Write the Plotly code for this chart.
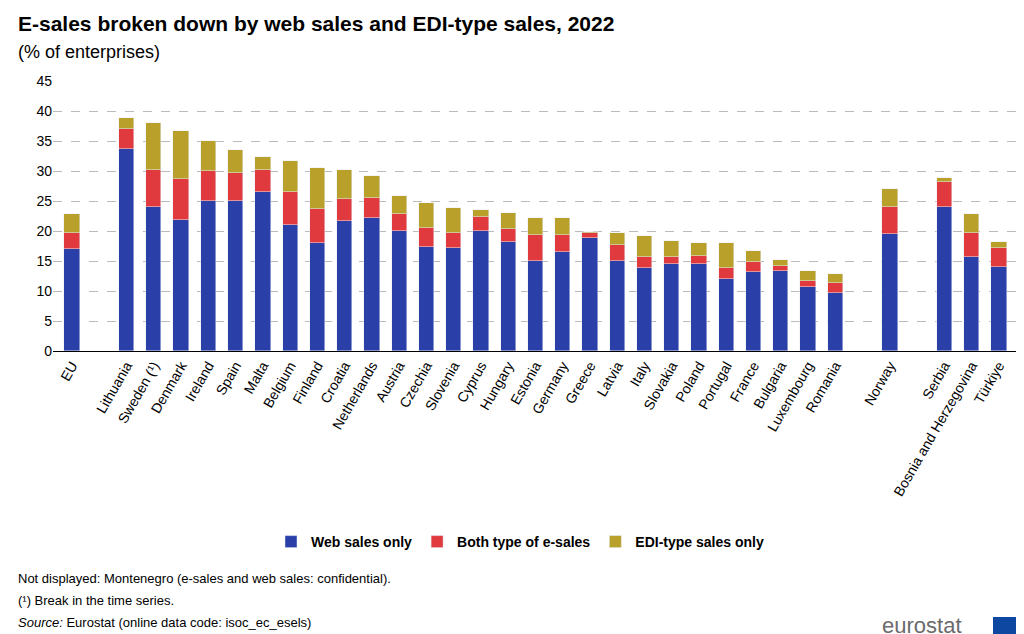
import plotly.graph_objects as go

countries = ["EU","Lithuania","Sweden (¹)","Denmark","Ireland","Spain","Malta","Belgium","Finland","Croatia","Netherlands","Austria","Czechia","Slovenia","Cyprus","Hungary","Estonia","Germany","Greece","Latvia","Italy","Slovakia","Poland","Portugal","France","Bulgaria","Luxembourg","Romania","Norway","Serbia","Bosnia and Herzegovina","Türkiye"]
web = [17.0,33.7,24.0,21.8,25.0,25.0,26.5,21.0,18.0,21.7,22.1,20.0,17.3,17.1,20.0,18.1,15.0,16.5,18.9,15.0,13.9,14.5,14.5,12.0,13.2,13.4,10.6,9.6,19.5,24.0,15.6,14.0]
both = [2.7,3.3,6.1,6.8,5.0,4.7,3.7,5.5,5.7,3.6,3.4,2.8,3.2,2.5,2.4,2.3,4.3,2.8,0.7,2.6,1.8,1.1,1.3,1.9,1.6,0.8,1.0,1.8,4.5,4.1,4.0,3.1]
edi = [3.1,1.8,7.9,8.1,5.0,3.8,2.2,5.2,6.8,4.9,3.7,3.1,4.2,4.3,1.1,2.6,2.9,2.8,0.3,2.0,3.4,2.8,2.2,4.1,1.9,0.9,1.7,1.4,3.0,0.7,3.2,1.0]
pos = [0]+list(range(2,29))+[30,32,33,34]

fig = go.Figure()
for name, vals, col in [("Web sales only", web, "#2a40a8"), ("Both type of e-sales", both, "#e0393e"), ("EDI-type sales only", edi, "#b8a02a")]:
    fig.add_bar(x=pos, y=vals, name="<b>"+name+"</b>", marker_color=col, width=0.56)

fig.update_layout(
    barmode="stack", width=1024, height=634, plot_bgcolor="white", paper_bgcolor="white",
    font=dict(family="Liberation Sans, Arial", size=14, color="#000"),
    margin=dict(l=45, r=14, t=73, b=291, autoexpand=False),
    xaxis=dict(tickvals=pos, ticktext=countries, tickangle=-60, range=[-0.7, 34.7], showline=True, linecolor="#000", ticks=""),
    yaxis=dict(range=[0,45], dtick=5, gridcolor="#bbb", griddash="dash", zeroline=False),
    legend=dict(orientation="h", x=0.5, xanchor="center", xref="container", yref="container",
                y=1-534/634, yanchor="middle", traceorder="normal", font=dict(size=14)),
    bargap=0,
)
ann = [
    dict(text="<b>E-sales broken down by web sales and EDI-type sales, 2022</b>", x=8, y=2, font=dict(size=21)),
    dict(text="(% of enterprises)", x=8, y=32, font=dict(size=18)),
    dict(text="Not displayed: Montenegro (e-sales and web sales: confidential).", x=8, y=561, font=dict(size=13)),
    dict(text="(¹) Break in the time series.", x=8, y=583, font=dict(size=13)),
    dict(text="<i>Source:</i> Eurostat (online data code: isoc_ec_esels)", x=8, y=605, font=dict(size=13)),
    dict(text="eurostat", x=872, y=603, font=dict(size=22, color="#6b6b6b")),
]
for a in ann:
    fig.add_annotation(text=a["text"], xref="paper", yref="paper",
                       x=(a["x"]-45)/965, y=1-(a["y"]-73)/270, xanchor="left", yanchor="top",
                       showarrow=False, font=a["font"])
fig.add_shape(type="rect", xref="paper", yref="paper", x0=(985-45)/965, x1=(1012-45)/965,
              y0=1-(628-73)/270, y1=1-(609-73)/270, fillcolor="#0e47a1", line_width=0)
fig.write_html("out.html")
